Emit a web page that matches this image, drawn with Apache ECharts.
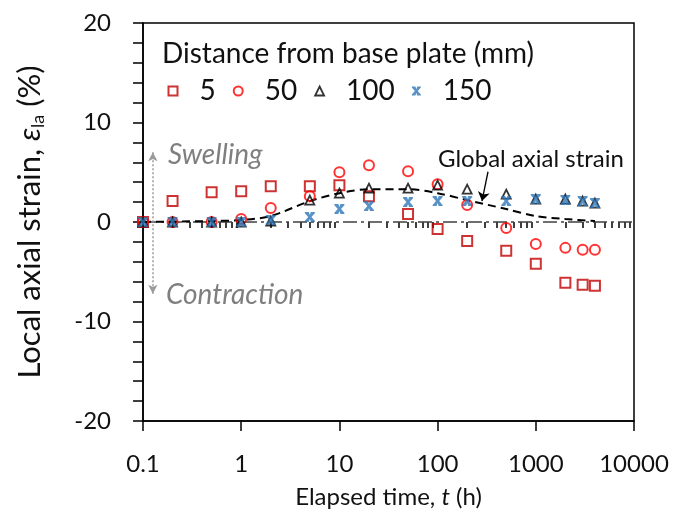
<!DOCTYPE html>
<html>
<head>
<meta charset="utf-8">
<script src="https://cdn.jsdelivr.net/npm/echarts@6/dist/echarts.min.js"></script>
<style>html,body{margin:0;padding:0;background:#fff;}#c{width:679px;height:522px;}</style>
</head>
<body>
<div id="c"></div>
<script>
// ---- data ----
var times = [0.1, 0.2, 0.5, 1, 2, 5, 10, 20, 50, 100, 200, 500, 1000, 2000, 3000, 4000];
var d5   = [0, 2.1, 3.0, 3.1, 3.6, 3.6, 3.7, 2.6, 0.8, -0.7, -1.9, -2.9, -4.2, -6.1, -6.3, -6.4];
var d50  = [0, 0, 0, 0.3, 1.4, 2.6, 5.0, 5.7, 5.1, 3.8, 1.7, -0.6, -2.2, -2.6, -2.8, -2.8];
var d100 = [0, 0, 0, 0, 0.1, 2.2, 2.9, 3.4, 3.4, 3.7, 3.3, 2.8, 2.3, 2.3, 2.1, 1.9];
var d150 = [0, 0, 0, 0, 0.2, 0.5, 1.3, 1.6, 2.0, 2.1, 2.1, 2.1, 2.3, 2.2, 2.1, 1.9];
var globalTimes = [0.1, 0.2, 0.5, 1, 2, 5, 10, 20, 50, 100, 200, 500, 1000, 2000, 4000];
var globalStrain = [0, 0.05, 0.1, 0.2, 0.6, 2.1, 2.9, 3.3, 3.3, 2.9, 2.2, 1.3, 0.6, 0.3, 0.1];
var seriesNames = ['5', '50', '100', '150'];
var xTickLabels = ['0.1', '1', '10', '100', '1000', '10000'];
var yTickLabels = ['-20', '-10', '0', '10', '20'];
var minorTicks = [0.2,0.3,0.4,0.5,0.6,0.7,0.8,0.9,2,3,4,5,6,7,8,9,20,30,40,50,60,70,80,90,200,300,400,500,600,700,800,900,2000,3000,4000,5000,6000,7000,8000,9000];

function pairs(xs, ys) { return xs.map(function (x, i) { return [x, ys[i]]; }); }

var FONT = 'Lato';
var TXT = '#111';
var BLUE = '#2E75B6';
var starPath = 'path://M0,0L4,0L5,3L6,0L10,0L10,1.2L6.6,5L10,8.8L10,10L6,10L5,7L4,10L0,10L0,8.8L3.4,5L0,1.2Z';

var chart = echarts.init(document.getElementById('c'), null, {renderer: 'canvas'});
chart.setOption({
  animation: false,
  backgroundColor: '#fff',
  textStyle: {fontFamily: FONT},
  grid: {left: 143, top: 23, right: 45, bottom: 101, show: true, borderColor: '#000', borderWidth: 1.5, backgroundColor: 'transparent'},
  legend: {
    left: 167.5, top: 77, padding: 0, itemGap: 17, itemWidth: 9, itemHeight: 9,
    textStyle: {fontSize: 28, fontFamily: FONT, color: TXT, padding: [0, 0, 0, 17]},
    data: [
      {name: '5', icon: 'rect', itemStyle: {color: 'transparent', borderColor: '#C00000', borderWidth: 2}},
      {name: '50', icon: 'circle', itemStyle: {color: 'transparent', borderColor: '#FF0000', borderWidth: 2}},
      {name: '100', icon: 'triangle', itemStyle: {color: 'transparent', borderColor: '#000', borderWidth: 1.8}},
      {name: '150', icon: starPath, itemStyle: {color: BLUE, borderWidth: 0}}
    ]
  },
  xAxis: [{
    type: 'log', logBase: 10, min: 0.1, max: 10000, splitNumber: 5,
    position: 'bottom',
    name: 'Elapsed time, {i|t} (h)', nameLocation: 'middle', nameGap: 64,
    nameTextStyle: {fontSize: 24, fontFamily: FONT, color: TXT, rich: {i: {fontSize: 24, fontFamily: FONT, fontStyle: 'italic', color: TXT}}},
    axisLine: {show: true, onZero: false, lineStyle: {color: '#000', width: 1.5}},
    axisTick: {show: true, inside: false, length: 10, lineStyle: {color: '#000', width: 1.5}},
    axisLabel: {fontSize: 24, fontFamily: FONT, color: TXT, margin: 31,
      formatter: function (v) { var e = Math.round(Math.log10(v)) + 1; return xTickLabels[e] !== undefined ? xTickLabels[e] : ''; }},
    splitLine: {show: false}
  }, {
    type: 'log', logBase: 10, min: 0.1, max: 10000, position: 'bottom', gridIndex: 0,
    axisLine: {show: false},
    axisTick: {show: true, inside: false, length: 6, customValues: minorTicks, lineStyle: {color: '#000', width: 1.5}},
    axisLabel: {show: false},
    splitLine: {show: false}
  }],
  yAxis: {
    type: 'value', min: -20, max: 20, interval: 2,
    name: 'Local axial strain, {e|ε}{sub|la} (%)', nameLocation: 'middle', nameGap: 96, nameRotate: 90,
    nameTextStyle: {fontSize: 31, fontFamily: FONT, color: TXT, lineHeight: 34,
      rich: {e: {fontSize: 31, fontFamily: FONT, fontStyle: 'italic', color: TXT, lineHeight: 34},
             sub: {fontSize: 18, fontFamily: FONT, color: TXT, verticalAlign: 'bottom', lineHeight: 34}}},
    axisLine: {show: true, onZero: false, lineStyle: {color: '#000', width: 1.5}},
    axisTick: {show: true, inside: false, length: 10, lineStyle: {color: '#000', width: 1.5}},
    axisLabel: {fontSize: 24, fontFamily: FONT, color: TXT, margin: 32, interval: 4,
      formatter: function (v) { var k = (v + 20) / 10; return (v % 10 === 0 && yTickLabels[k] !== undefined) ? yTickLabels[k] : ''; }},
    splitLine: {show: false}
  },
  series: [
    {
      name: 'zero', type: 'line', silent: true, symbol: 'none', z: 1,
      data: [[0.1, 0], [10000, 0]],
      lineStyle: {color: '#404040', width: 1.5, type: [14, 4, 3, 4]},
      markLine: {
        silent: true, symbol: ['arrow', 'arrow'], symbolSize: [7, 9], label: {show: false},
        lineStyle: {color: '#9a9a9a', width: 1.5, type: [2, 2]},
        data: [[{coord: [0.126, 7.0]}, {coord: [0.126, -7.2]}]]
      }
    },
    {
      name: 'global', type: 'line', silent: true, symbol: 'none', smooth: 0.3, z: 2,
      data: pairs(globalTimes, globalStrain),
      lineStyle: {color: '#000', width: 2, type: [8, 5]},
      markLine: {
        silent: true, symbol: ['none', 'arrow'], symbolSize: 9, label: {show: false},
        lineStyle: {color: '#000', width: 1.3, type: 'solid'},
        data: [[{coord: [326, 5.05]}, {coord: [283, 2.1]}]]
      }
    },
    {name: '5', type: 'scatter', symbol: 'rect', symbolSize: 10, z: 3,
      itemStyle: {color: 'transparent', borderColor: '#C00000', borderWidth: 2}, data: pairs(times, d5)},
    {name: '50', type: 'scatter', symbol: 'circle', symbolSize: 10, z: 4,
      itemStyle: {color: 'transparent', borderColor: '#FF0000', borderWidth: 2}, data: pairs(times, d50)},
    {name: '100', type: 'scatter', symbol: 'triangle', symbolSize: 9, z: 5,
      itemStyle: {color: 'transparent', borderColor: '#000', borderWidth: 1.8}, data: pairs(times, d100)},
    {name: '150', type: 'scatter', symbol: starPath, symbolSize: 10, z: 6,
      itemStyle: {color: BLUE, borderWidth: 0}, data: pairs(times, d150)}
  ],
  graphic: [
    {type: 'text', x: 162, y: 54, silent: true,
      style: {text: 'Distance from base plate (mm)', fontSize: 28, fontFamily: FONT, fill: TXT, verticalAlign: 'middle'}},
    {type: 'text', x: 168, y: 155, silent: true,
      style: {text: 'Swelling', fontSize: 28, fontStyle: 'italic', fontFamily: FONT, fill: '#7f7f7f', verticalAlign: 'middle'}},
    {type: 'text', x: 166, y: 295, silent: true,
      style: {text: 'Contraction', fontSize: 28, fontStyle: 'italic', fontFamily: FONT, fill: '#7f7f7f', verticalAlign: 'middle'}},
    {type: 'text', x: 438, y: 159, silent: true,
      style: {text: 'Global axial strain', fontSize: 24, fontFamily: FONT, fill: TXT, verticalAlign: 'middle'}}
  ]
});
</script>
</body>
</html>
